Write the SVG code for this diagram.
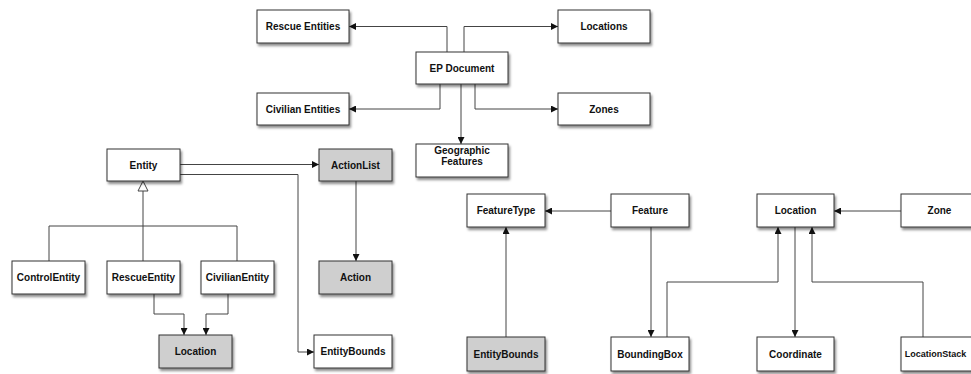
<svg xmlns="http://www.w3.org/2000/svg" width="971" height="374" viewBox="0 0 971 374">
<defs>
<filter id="sh" x="-20%" y="-20%" width="150%" height="160%">
<feDropShadow dx="1.5" dy="2.5" stdDeviation="1.3" flood-color="#000" flood-opacity="0.45"/>
</filter>
<marker id="ar" markerUnits="userSpaceOnUse" markerWidth="8" markerHeight="7" refX="7" refY="3.5" orient="auto">
<path d="M0,0 L7,3.5 L0,7 z" fill="#111"/>
</marker>
</defs>
<style>
.b rect{fill:#fff;stroke:#333;stroke-width:1;filter:url(#sh)}
.g rect{fill:#cfcfcf}
text{font-family:"Liberation Sans",Arial,sans-serif;font-weight:bold;font-size:10px;fill:#111;text-anchor:middle;dominant-baseline:central}
#connectors path{fill:none;stroke:#444;stroke-width:1}
#connectors .a{marker-end:url(#ar)}
</style>
<rect width="971" height="374" fill="#fff"/>
<g id="connectors">
<path class="a" d="M447,52 V26.5 H349"/>
<path class="a" d="M464,52 V26.5 H558"/>
<path class="a" d="M440,84 V109 H349"/>
<path class="a" d="M475,84 V109 H558"/>
<path class="a" d="M461,84 V144"/>
<path class="a" d="M180,164.5 H319"/>
<path class="a" d="M180,174.5 H298 V352 H314"/>
<path class="a" d="M356,181 V261"/>
<path d="M143,191 V261"/>
<path d="M49,261 V226 H237 V261"/>
<polygon points="143,181 138,191 148,191" fill="#fff" stroke="#444" stroke-width="1"/>
<path class="a" d="M154,294 V314 H184 V335"/>
<path class="a" d="M228,294 V314 H206 V335"/>
<path class="a" d="M611,211 H545"/>
<path class="a" d="M506,337 V227"/>
<path class="a" d="M651,227 V337"/>
<path class="a" d="M667,337 V282 H778 V227"/>
<path class="a" d="M901,211 H834"/>
<path class="a" d="M795,227 V337"/>
<path class="a" d="M923,337 V282 H812 V227"/>
</g>
<g id="rescueEntities" class="b"><rect x="257" y="10" width="92" height="33"/><text x="303" y="26.5">Rescue Entities</text></g>
<g id="locations" class="b"><rect x="558" y="10" width="92" height="33"/><text x="604" y="26.5">Locations</text></g>
<g id="epDocument" class="b"><rect x="416" y="52" width="92" height="32"/><text x="462" y="68">EP Document</text></g>
<g id="civilianEntities" class="b"><rect x="257" y="93" width="92" height="32"/><text x="303" y="109">Civilian Entities</text></g>
<g id="zones" class="b"><rect x="558" y="93" width="92" height="32"/><text x="604" y="109">Zones</text></g>
<g id="geographicFeatures" class="b"><rect x="416" y="144" width="92" height="33"/><text x="462" y="150">Geographic</text><text x="462" y="161">Features</text></g>
<g id="entity" class="b"><rect x="107" y="149" width="73" height="32"/><text x="143.5" y="165">Entity</text></g>
<g id="actionList" class="b g"><rect x="319" y="149" width="73" height="32"/><text x="355.5" y="165">ActionList</text></g>
<g id="controlEntity" class="b"><rect x="12" y="261" width="73" height="33"/><text x="48.5" y="277.5">ControlEntity</text></g>
<g id="rescueEntity" class="b"><rect x="107" y="261" width="73" height="33"/><text x="143.5" y="277.5">RescueEntity</text></g>
<g id="civilianEntity" class="b"><rect x="201" y="261" width="73" height="33"/><text x="237.5" y="277.5">CivilianEntity</text></g>
<g id="action" class="b g"><rect x="319" y="261" width="73" height="33"/><text x="355.5" y="277.5">Action</text></g>
<g id="entityLocation" class="b g"><rect x="159" y="335" width="73" height="33"/><text x="195.5" y="351.5">Location</text></g>
<g id="entityBoundsLeft" class="b"><rect x="314" y="335" width="78" height="33"/><text x="353" y="351.5">EntityBounds</text></g>
<g id="featureType" class="b"><rect x="467" y="194" width="78" height="33"/><text x="506" y="210.5">FeatureType</text></g>
<g id="feature" class="b"><rect x="611" y="194" width="78" height="33"/><text x="650" y="210.5">Feature</text></g>
<g id="location" class="b"><rect x="757" y="194" width="77" height="33"/><text x="795.5" y="210.5">Location</text></g>
<g id="zone" class="b"><rect x="901" y="194" width="77" height="33"/><text x="939.5" y="210.5">Zone</text></g>
<g id="entityBoundsRight" class="b g"><rect x="467" y="337" width="78" height="34"/><text x="506" y="354">EntityBounds</text></g>
<g id="boundingBox" class="b"><rect x="611" y="337" width="78" height="34"/><text x="650" y="354">BoundingBox</text></g>
<g id="coordinate" class="b"><rect x="757" y="337" width="77" height="34"/><text x="795.5" y="354">Coordinate</text></g>
<g id="locationStack" class="b"><rect x="901" y="337" width="77" height="34"/><text x="935.5" y="354" style="font-size:9px">LocationStack</text></g>
</svg>
